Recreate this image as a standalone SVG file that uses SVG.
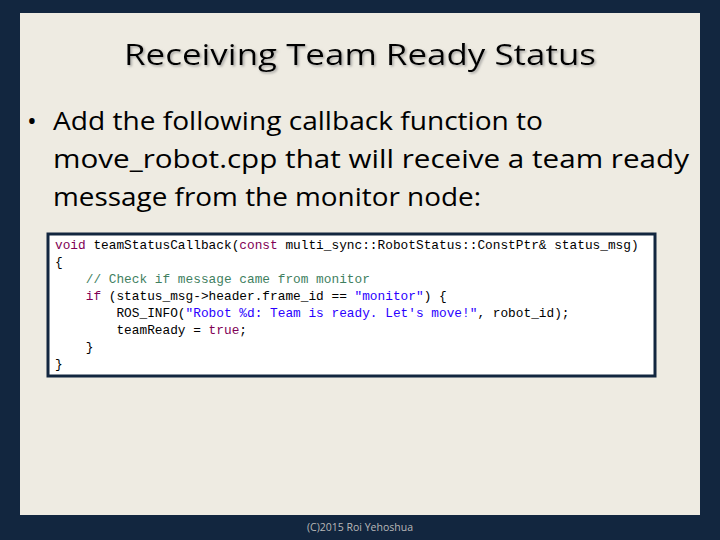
<svg xmlns="http://www.w3.org/2000/svg" width="720" height="540" viewBox="0 0 720 540">
<defs><filter id="sh" x="-5%" y="-20%" width="110%" height="150%"><feDropShadow dx="1.5" dy="1.5" stdDeviation="0.8" flood-color="#888" flood-opacity="0.7"/></filter></defs>
<style>
.t{font-family:"Open Sans","Noto Sans",sans-serif;fill:#000}
.c{font-family:"Liberation Mono",monospace;font-size:12.8px;fill:#000;white-space:pre}
.k{fill:#7f0055}.g{fill:#3f7f5f}.s{fill:#2a00ff}
</style>
<rect width="720" height="540" fill="#12263f"/>
<rect x="20" y="13" width="680" height="502" fill="#eeebe2"/>
<g id="title"><text x="360" y="65" text-anchor="middle" class="t" font-size="30" filter="url(#sh)" textLength="472" lengthAdjust="spacingAndGlyphs">Receiving Team Ready Status</text></g>
<g id="bullet" class="t" font-size="26">
<text x="27" y="130">•</text>
<text x="53" y="130" textLength="490" lengthAdjust="spacingAndGlyphs">Add the following callback function to</text>
<text x="53" y="168" textLength="636" lengthAdjust="spacingAndGlyphs">move_robot.cpp that will receive a team ready</text>
<text x="53" y="206" textLength="428" lengthAdjust="spacingAndGlyphs">message from the monitor node:</text>
</g>
<g id="code">
<rect x="48" y="234" width="607" height="142" fill="#fff" stroke="#12263f" stroke-width="3"/>
<text class="c" x="55" y="249"><tspan class="k">void</tspan> teamStatusCallback(<tspan class="k">const</tspan> multi_sync::RobotStatus::ConstPtr&amp; status_msg)</text>
<text class="c" x="55" y="266">{</text>
<text class="c" x="55" y="283">    <tspan class="g">// Check if message came from monitor</tspan></text>
<text class="c" x="55" y="300">    <tspan class="k">if</tspan> (status_msg-&gt;header.frame_id == <tspan class="s">"monitor"</tspan>) {</text>
<text class="c" x="55" y="317">        ROS_INFO(<tspan class="s">"Robot %d: Team is ready. Let's move!"</tspan>, robot_id);</text>
<text class="c" x="55" y="334">        teamReady = <tspan class="k">true</tspan>;</text>
<text class="c" x="55" y="351">    }</text>
<text class="c" x="55" y="368">}</text>
</g>
<text x="360" y="531" text-anchor="middle" font-family="Open Sans,sans-serif" font-size="10.5" fill="#b8b8b8">(C)2015 Roi Yehoshua</text>
</svg>
